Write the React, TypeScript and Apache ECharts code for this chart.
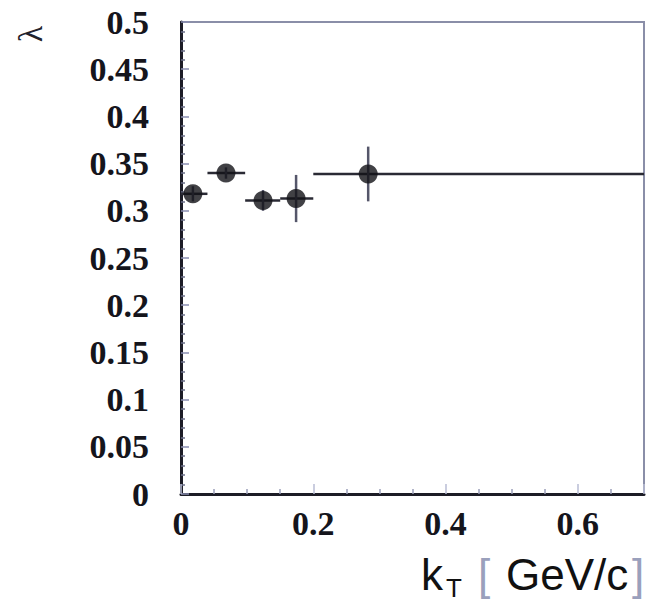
import React, { useEffect, useRef } from "react";
import * as echarts from "echarts";

const kT = [0.018, 0.068, 0.124, 0.174, 0.283];
const lambdaVals = [0.318, 0.340, 0.311, 0.313, 0.339];
const kTLow = [0.0, 0.04, 0.097, 0.15, 0.2];
const kTHigh = [0.04, 0.097, 0.15, 0.2, 0.7];
const lambdaErr = [0.008, 0.006, 0.011, 0.025, 0.029];
const yTickStep = 0.05;
const xTickStep = 0.2;

export default function App() {
  const ref = useRef<HTMLDivElement>(null);
  useEffect(() => {
    if (!ref.current) return;
    const chart = echarts.init(ref.current, null, { renderer: "svg" });
    const axisColor = "#1c1c26";
    const labelFont = {
      fontFamily: "Liberation Serif",
      fontWeight: "bold" as const,
      fontSize: 34,
      color: "#15151c",
    };
    const errData = kT.map((x, i) => [x, lambdaVals[i], kTLow[i], kTHigh[i], lambdaErr[i]]);
    chart.setOption({
      animation: false,
      backgroundColor: "#ffffff",
      grid: {
        left: 181,
        right: 4,
        top: 22,
        bottom: 110,
        show: true,
        borderColor: "#8a8ea8",
        borderWidth: 2,
      },
      xAxis: {
        type: "value",
        min: 0,
        max: 0.7,
        interval: xTickStep,
        axisLine: { show: true, lineStyle: { color: axisColor, width: 3 } },
        axisTick: { show: true, inside: true, length: 10, lineStyle: { color: "#b8bcd4", width: 1.5 } },
        minorTick: { show: true, splitNumber: 4, length: 5, lineStyle: { color: "#9a9eb8", width: 1.5 } },
        splitLine: { show: false },
        axisLabel: {
          ...labelFont,
          margin: 12,
          showMaxLabel: false,
          formatter: (v: number) => String(+v.toFixed(2)),
        },
      },
      yAxis: [
        {
          type: "value",
          min: 0,
          max: 0.5,
          interval: yTickStep,
          axisLine: { show: true, lineStyle: { color: axisColor, width: 3 } },
          axisTick: { show: true, inside: true, length: 8, lineStyle: { color: "#8a8eb0", width: 1.5 } },
          minorTick: { show: true, splitNumber: 5, length: 4, lineStyle: { color: "#6a6e88", width: 1.5 } },
          splitLine: { show: false },
          axisLabel: {
            ...labelFont,
            margin: 32,
            formatter: (v: number) => String(+v.toFixed(2)),
          },
        },
        {
          type: "value",
          position: "left",
          offset: 151,
          min: 0,
          max: 0.5,
          axisLine: { show: false },
          axisTick: { show: false },
          axisLabel: { show: false },
          splitLine: { show: false },
          name: "λ",
          nameLocation: "end",
          nameRotate: 90,
          nameGap: -12,
          nameTextStyle: {
            fontSize: 34,
            fontFamily: "Liberation Serif",
            color: "#22222c",
            align: "center",
            verticalAlign: "middle",
          },
        },
      ],
      series: [
        {
          type: "custom",
          data: errData,
          renderItem: (params: any, api: any) => {
            const x = api.value(0);
            const y = api.value(1);
            const xl = api.value(2);
            const xh = api.value(3);
            const e = api.value(4);
            const pL = api.coord([xl, y]);
            const pH = api.coord([xh, y]);
            const pB = api.coord([x, y - e]);
            const pT = api.coord([x, y + e]);
            const style = { stroke: "#2a2a34", lineWidth: 2.5 };
            return {
              type: "group",
              children: [
                { type: "line", shape: { x1: pL[0], y1: pL[1], x2: pH[0], y2: pH[1] }, style },
                { type: "line", shape: { x1: pB[0], y1: pB[1], x2: pT[0], y2: pT[1] }, style: { stroke: "#55566a", lineWidth: 2.5 } },
              ],
            };
          },
          z: 2,
        },
        {
          type: "scatter",
          data: kT.map((x, i) => [x, lambdaVals[i]]),
          symbol: "circle",
          symbolSize: 19,
          itemStyle: { color: "#111116" },
          z: 3,
        },
      ],
      graphic: [
        {
          type: "text",
          x: 421,
          y: 574,
          style: { text: "k", fontSize: 44, fontFamily: "Liberation Sans", fill: "#111", verticalAlign: "middle" },
        },
        {
          type: "text",
          x: 446,
          y: 588,
          style: { text: "T", fontSize: 26, fontFamily: "Liberation Sans", fill: "#111", verticalAlign: "middle" },
        },
        {
          type: "text",
          x: 478,
          y: 574,
          style: { text: "[", fontSize: 44, fontFamily: "Liberation Sans", fill: "#9aa0bc", verticalAlign: "middle" },
        },
        {
          type: "text",
          x: 506,
          y: 574,
          style: { text: "GeV/c", fontSize: 44, fontFamily: "Liberation Sans", fill: "#111", verticalAlign: "middle" },
        },
        {
          type: "text",
          x: 632,
          y: 574,
          style: { text: "]", fontSize: 44, fontFamily: "Liberation Sans", fill: "#9aa0bc", verticalAlign: "middle" },
        },
      ],
    });
    return () => chart.dispose();
  }, []);
  return <div ref={ref} style={{ width: 648, height: 604, position: "absolute", left: 0, top: 0 }} />;
}
